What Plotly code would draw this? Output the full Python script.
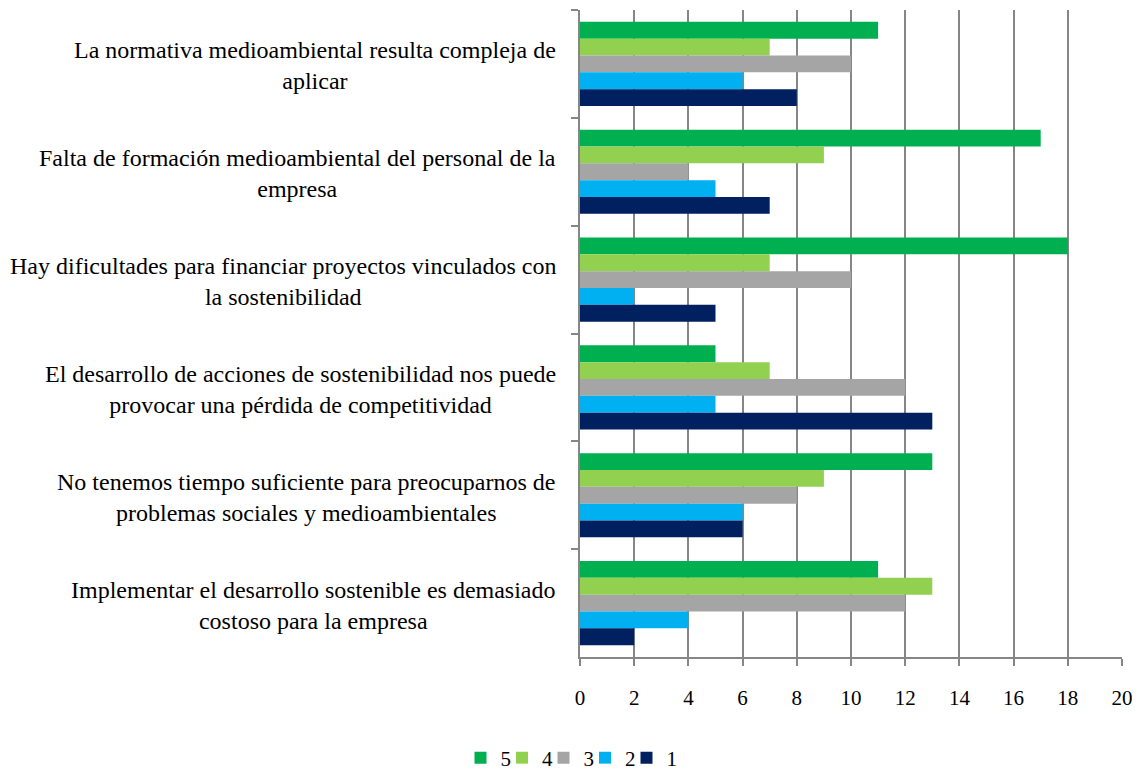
import plotly.graph_objects as go

categories = [
    "La normativa medioambiental resulta compleja de<br>aplicar",
    "Falta de formación medioambiental del personal de la<br>empresa",
    "Hay dificultades para financiar proyectos vinculados con<br>la sostenibilidad",
    "El desarrollo de acciones de sostenibilidad nos puede<br>provocar una pérdida de competitividad",
    "No tenemos tiempo suficiente para preocuparnos de<br>problemas sociales y medioambientales",
    "Implementar el desarrollo sostenible es demasiado<br>costoso para la empresa",
]
series_names = ["5", "4", "3", "2", "1"]
values_5 = [11, 17, 18, 5, 13, 11]
values_4 = [7, 9, 7, 7, 9, 13]
values_3 = [10, 4, 10, 12, 8, 12]
values_2 = [6, 5, 2, 5, 6, 4]
values_1 = [8, 7, 5, 13, 6, 2]
series_values = [values_5, values_4, values_3, values_2, values_1]
colors = ["#00B050", "#92D050", "#A5A5A5", "#00B0F0", "#002060"]
x_ticks = list(range(0, 21, 2))

FONT = "Liberation Serif, Times New Roman, serif"

W, H = 1132, 763
ML, MR, MT, MB = 572, 18, 2, 114
plot_w = W - ML - MR
plot_h = H - MT - MB

# legend layout (pixels in figure coordinates)
LEG_FIRST_LEFT = 452.5
LEG_STEP = 41.5
LEG_CENTER_Y = 750

fig = go.Figure()
layout_legends = {}
for i, (name, vals, col) in enumerate(zip(series_names, series_values, colors)):
    key = "legend" if i == 0 else f"legend{i + 1}"
    fig.add_trace(go.Bar(
        y=categories, x=vals, name=name, orientation="h",
        marker=dict(color=col, line=dict(width=0)),
        legend=key,
    ))
    layout_legends[key] = dict(
        orientation="h",
        x=(LEG_FIRST_LEFT + i * LEG_STEP - ML) / plot_w, xanchor="left",
        y=-(LEG_CENTER_Y - (MT + plot_h)) / plot_h, yanchor="middle",
        font=dict(family=FONT, size=21), itemwidth=30,
        bgcolor="rgba(0,0,0,0)",
    )

for cat in categories:
    fig.add_annotation(
        x=0, xref="paper", xanchor="right", xshift=-22,
        y=cat, yref="y", yanchor="middle", yshift=-2,
        text=cat, showarrow=False, align="center",
        font=dict(family=FONT, size=24, color="#000000"),
    )

fig.update_layout(
    width=W, height=H,
    margin=dict(l=ML, r=MR, t=MT, b=MB, autoexpand=False),
    barmode="group", bargap=0.22, bargroupgap=0,
    plot_bgcolor="white", paper_bgcolor="white",
    font=dict(family=FONT, size=20, color="#000000"),
    showlegend=True,
    **layout_legends,
)
fig.update_xaxes(
    range=[0, 20], tickvals=x_ticks, ticktext=[str(v) for v in x_ticks],
    showgrid=True, gridcolor="#868686", gridwidth=1.5,
    showline=True, linecolor="#868686", linewidth=1.5,
    ticks="outside", ticklen=7, tickcolor="#868686", tickwidth=1.5,
    ticklabelstandoff=14, zeroline=False, ticklabeloverflow="allow",
    tickfont=dict(family=FONT, size=21),
)
fig.update_yaxes(
    autorange="reversed", showticklabels=False,
    showline=True, linecolor="#868686", linewidth=1.5,
    ticks="outside", ticklen=7, tickcolor="#868686", tickwidth=1.5,
    tickson="boundaries", showgrid=False,
)

fig.write_html("out.html")
